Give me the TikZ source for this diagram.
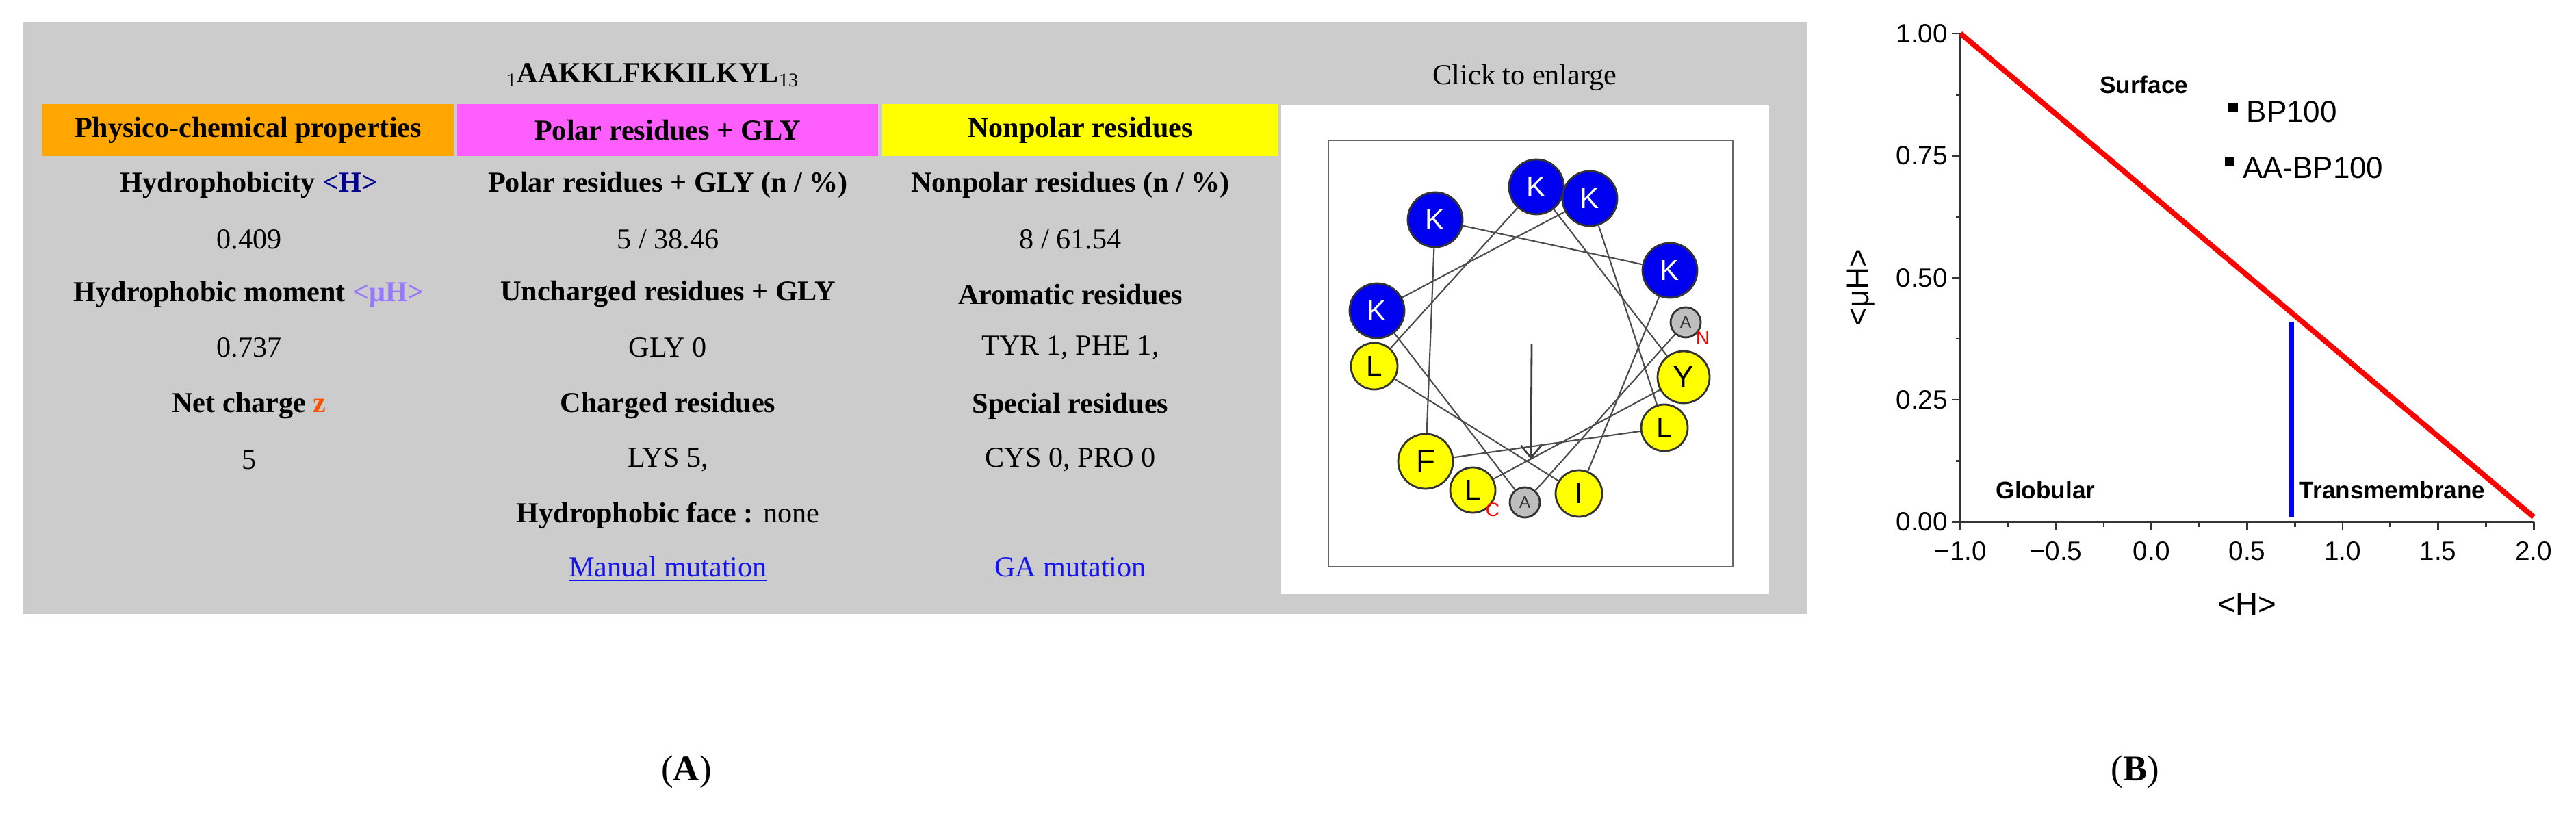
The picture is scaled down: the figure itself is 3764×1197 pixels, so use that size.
\documentclass[tikz,border=0pt]{standalone}
\usepackage{fontspec}
\setmainfont{Liberation Serif}
\newfontfamily\arial{Liberation Sans}
\usetikzlibrary{arrows.meta}
\definecolor{panelgray}{RGB}{204,204,204}
\definecolor{hdrorange}{RGB}{255,166,0}
\definecolor{hdrmagenta}{RGB}{255,94,255}
\definecolor{hdryellow}{RGB}{255,255,0}
\definecolor{navyH}{RGB}{0,0,140}
\definecolor{lilac}{RGB}{150,120,255}
\definecolor{zorange}{RGB}{255,80,0}
\definecolor{kblue}{RGB}{0,0,240}
\definecolor{agray}{RGB}{190,190,190}
\definecolor{linkblue}{RGB}{20,20,238}
\definecolor{plotred}{RGB}{255,0,0}
\tikzset{
  tb/.style={font=\fontsize{12}{14}\selectfont\bfseries, inner sep=0pt},
  tn/.style={font=\fontsize{12}{14}\selectfont, inner sep=0pt},
  hdr/.style={draw=none, minimum height=75*0.01cm, inner sep=0pt, font=\fontsize{12}{14}\selectfont\bfseries},
  res/.style={circle, draw=black!80, line width=0.8pt, inner sep=0pt, font=\arial\fontsize{12}{12}\selectfont},
  kres/.style={res, fill=kblue, text=white, minimum size=80*0.01cm},
  yres/.style={res, fill=hdryellow, text=black},
  ares/.style={res, fill=agray, text=black!80, minimum size=44*0.01cm, font=\arial\fontsize{7}{7}\selectfont},
  wline/.style={draw=black!70, line width=0.6pt},
  tick/.style={font=\arial\fontsize{11}{11}\selectfont, inner sep=0pt},
  plab/.style={font=\arial\fontsize{10}{10}\selectfont\bfseries, inner sep=0pt},
  ptlab/.style={font=\arial\fontsize{12.5}{12.5}\selectfont, inner sep=0pt, anchor=west},
}
\begin{document}
\begin{tikzpicture}[x=0.01cm,y=-0.01cm]
\useasboundingbox (0,0) rectangle (3764,1197);
\fill[white] (0,0) rectangle (3764,1197);
% panel A background
\fill[panelgray] (33,32) rectangle (2640,897);
\node[tn, font=\fontsize{12}{14}\selectfont\bfseries] (title) at (954,110) {$_{\mathrm{1}}$AAKKLFKKILKYL$_{\mathrm{13}}$};
\node[hdr, fill=hdrorange, minimum width=601*0.01cm] (h1) at (362.5,190) {Physico-chemical properties};
\node[hdr, fill=hdrmagenta, minimum width=615*0.01cm] (h2) at (975.5,190) {Polar residues + GLY};
\node[hdr, fill=hdryellow, minimum width=579*0.01cm] (h3) at (1578.5,190) {Nonpolar residues};
% column 1
\node[tb] (c1a) at (364,270) {Hydrophobicity \textcolor{navyH}{<H>}};
\node[tn] (c1b) at (364,350) {0.409};
\node[tb] (c1c) at (364,430) {Hydrophobic moment \textcolor{lilac}{<μH>}};
\node[tn] (c1d) at (364,508) {0.737};
\node[tb] (c1e) at (364,593) {Net charge \textcolor{zorange}{z}};
\node[tn] (c1f) at (364,672) {5};
% column 2
\node[tb] (c2a) at (976,270) {Polar residues + GLY (n / \%)};
\node[tn] (c2b) at (976,350) {5 / 38.46};
\node[tb] (c2c) at (976,430) {Uncharged residues + GLY};
\node[tn] (c2d) at (976,508) {GLY 0};
\node[tb] (c2e) at (976,593) {Charged residues};
\node[tn] (c2f) at (976,672) {LYS 5,};
\node[tn] (c2g) at (976,753) {\textbf{Hydrophobic face :} none};
\node[tn, text=linkblue] (c2h) at (976,832) {\underline{Manual mutation}};
% column 3
\node[tb] (c3a) at (1564,270) {Nonpolar residues (n / \%)};
\node[tn] (c3b) at (1564,350) {8 / 61.54};
\node[tb] (c3c) at (1564,430) {Aromatic residues};
\node[tn] (c3d) at (1564,508) {TYR 1, PHE 1,};
\node[tb] (c3e) at (1564,593) {Special residues};
\node[tn] (c3f) at (1564,672) {CYS 0, PRO 0};
\node[tn, text=linkblue] (c3h) at (1564,832) {\underline{GA mutation}};
% helical wheel box
\node[tn] (enl) at (2228,113) {Click to enlarge};
\fill[white] (1872,154) rectangle (2585,868);
\draw[black!60, line width=0.8pt] (1941,205) rectangle (2532,828);
% residues: sequence order r1..r13
\node[ares] (r1) at (2463,471) {A};
\node[ares] (r2) at (2228,734) {A};
\node[kres] (r3) at (2012,454) {K};
\node[kres] (r4) at (2323,290) {K};
\node[yres, minimum size=68*0.01cm] (r5) at (2432,625) {L};
\node[yres, minimum size=80*0.01cm, font=\arial\fontsize{13}{13}\selectfont] (r6) at (2083,674) {F};
\node[kres] (r7) at (2097,321) {K};
\node[kres] (r8) at (2440,395) {K};
\node[yres, minimum size=68*0.01cm] (r9) at (2307,721) {I};
\node[yres, minimum size=68*0.01cm] (r10) at (2008,535) {L};
\node[kres] (r11) at (2245,273) {K};
\node[yres, minimum size=76*0.01cm, font=\arial\fontsize{13}{13}\selectfont] (r12) at (2460,551) {Y};
\node[yres, minimum size=66*0.01cm] (r13) at (2152,716) {L};
\foreach \a/\b in {1/2,2/3,3/4,4/5,5/6,6/7,7/8,8/9,9/10,10/11,11/12,12/13}
  \draw[wline] (r\a) -- (r\b);
\node[font=\arial\fontsize{8}{8}\selectfont, text=red, inner sep=0pt] (nlab) at (2488,494) {N};
\node[font=\arial\fontsize{8}{8}\selectfont, text=red, inner sep=0pt] (clab) at (2181,745) {C};
\coordinate (ar0) at (2238,502);
\coordinate (ar1) at (2237,671);
\draw[black!75, line width=0.8pt, -{Straight Barb[length=18*0.01cm, width=30*0.01cm]}] (ar0) -- (ar1);
% panel B plot (scope x origin at H=-1)
\begin{scope}[shift={(28.63cm,-7.62cm)}, x=2.79cm, y=7.13cm]
  \draw[black!80, line width=0.8pt] (0,1) coordinate (ytop) -- (0,0) coordinate (orig) -- (3,0) coordinate (xend);
  \foreach \v in {-1.0,-0.5,0.0,0.5,1.0,1.5,2.0}
    \draw[black!80, line width=0.8pt] (\v+1,0) -- ++(0,-0.018);
  \foreach \v in {-0.75,-0.25,0.25,0.75,1.25,1.75}
    \draw[black!80, line width=0.8pt] (\v+1,0) -- ++(0,-0.01);
  \foreach \v/\t in {-1.0/{\char"2212 1.0},-0.5/{\char"2212 0.5},0.0/0.0,0.5/0.5,1.0/1.0,1.5/1.5,2.0/2.0}
    \node[tick, anchor=north] at (\v+1,-0.04) {\t};
  \foreach \v in {0,0.25,0.5,0.75,1}
    \draw[black!80, line width=0.8pt] (0,\v) -- ++(-0.045,0);
  \foreach \v in {0.125,0.375,0.625,0.875}
    \draw[black!80, line width=0.8pt] (0,\v) -- ++(-0.025,0);
  \foreach \v/\t in {0/0.00,0.25/0.25,0.5/0.50,0.75/0.75,1/1.00}
    \node[tick, anchor=east] at (-0.065,\v) {\t};
  \coordinate (rs) at (0,1);
  \coordinate (re) at (3,0.01);
  \draw[plotred, line width=2.2pt] (rs) -- (re);
  \coordinate (bs) at (1.73,0.01);
  \coordinate (be) at (1.73,0.41);
  \draw[blue, line width=2.2pt] (bs) -- (be);
  \node[plab] (surf) at (0.96,0.895) {Surface};
  \node[plab] (glob) at (0.445,0.065) {Globular};
  \node[plab] (trans) at (2.26,0.065) {Transmembrane};
  \node[fill=black, minimum size=14*0.01cm, inner sep=0pt] (p1) at (1.425,0.848) {};
  \node[ptlab] (p1l) at (1.495,0.84) {BP100};
  \node[fill=black, minimum size=14*0.01cm, inner sep=0pt] (p2) at (1.41,0.738) {};
  \node[ptlab] (p2l) at (1.475,0.725) {AA-BP100};
  \node[font=\arial\fontsize{13}{13}\selectfont, inner sep=0pt] (xl) at (1.5,-0.168) {<H>};
  \node[font=\arial\fontsize{13}{13}\selectfont, inner sep=0pt, rotate=90] (yl) at (-0.52,0.48) {<μH>};
\end{scope}
% sub labels
\node[font=\fontsize{15}{15}\selectfont, inner sep=0pt] (la) at (1003,1128) {(\textbf{A})};
\node[font=\fontsize{15}{15}\selectfont, inner sep=0pt] (lb) at (3120,1128) {(\textbf{B})};
\end{tikzpicture}
\end{document}
